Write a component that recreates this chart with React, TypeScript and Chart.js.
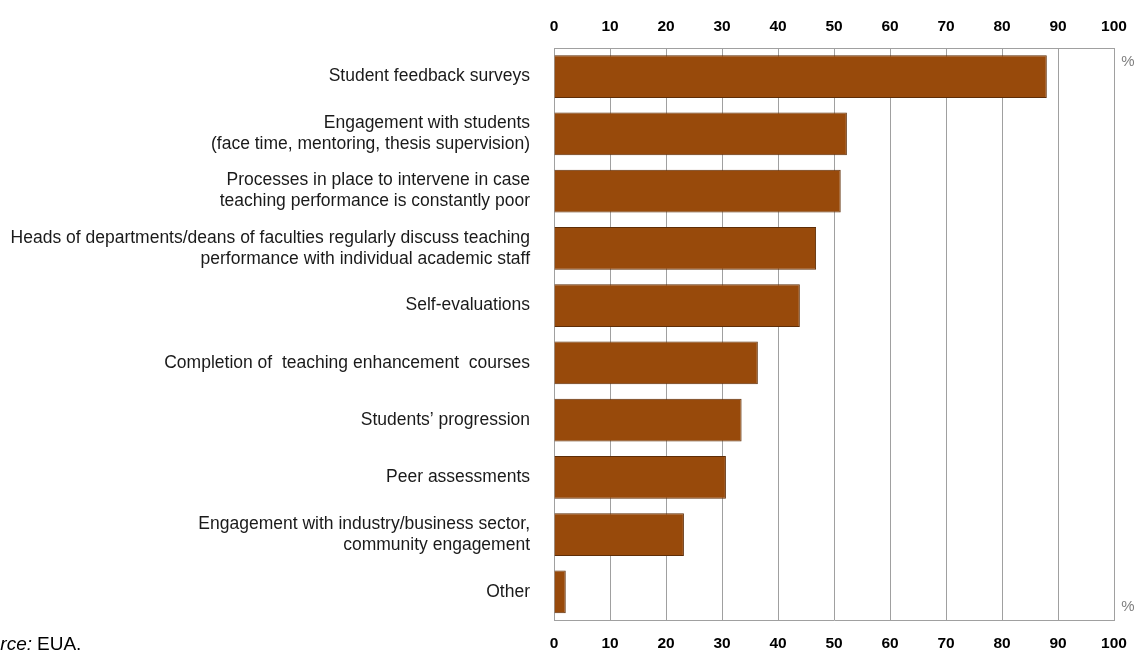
import React, { useEffect, useRef } from "react";
import { Chart, registerables } from "chart.js";

Chart.register(...registerables);

const categories: (string | string[])[] = [
  "Student feedback surveys",
  ["Engagement with students", "(face time, mentoring, thesis supervision)"],
  ["Processes in place to intervene in case", "teaching performance is constantly poor"],
  ["Heads of departments/deans of faculties regularly discuss teaching", "performance with individual academic staff"],
  "Self-evaluations",
  "Completion of  teaching enhancement  courses",
  "Students’ progression",
  "Peer assessments",
  ["Engagement with industry/business sector,", "community engagement"],
  "Other",
];

const values: number[] = [88, 52.3, 51.2, 46.8, 43.9, 36.4, 33.5, 30.7, 23.2, 2.1];

const axisMin = 0;
const axisMax = 100;
const axisStep = 10;
const unitLabel = "%";
const sourceItalic = "Source:";
const sourceText = "EUA.";

const BAR = "#984a0b";
const BAR_BORDER = "#5e2d07";
const GRID = "#a0a0a0";
const TICK_FONT = { family: "'Liberation Sans', Arial, sans-serif", size: 15.5, weight: "bold" as const };

const extras = {
  id: "extras",
  afterDraw(chart: any) {
    const ctx = chart.ctx;
    const area = chart.chartArea;
    ctx.save();
    ctx.fillStyle = "#7f7f7f";
    ctx.font = "15px 'Liberation Sans', Arial, sans-serif";
    ctx.textAlign = "center";
    ctx.textBaseline = "middle";
    ctx.fillText(unitLabel, area.right + 14, area.top + 14);
    ctx.fillText(unitLabel, area.right + 14, area.bottom - 14);
    ctx.fillStyle = "#000";
    ctx.textBaseline = "alphabetic";
    ctx.textAlign = "right";
    ctx.font = "italic 19px 'Liberation Sans', Arial, sans-serif";
    ctx.fillText(sourceItalic, 32, 650);
    ctx.textAlign = "left";
    ctx.font = "19px 'Liberation Sans', Arial, sans-serif";
    ctx.fillText(sourceText, 37, 650);
    ctx.restore();
  },
};

export default function App() {
  const ref = useRef<HTMLCanvasElement | null>(null);
  useEffect(() => {
    if (!ref.current) return;
    const chart = new Chart(ref.current, {
      type: "bar",
      data: {
        labels: categories as any,
        datasets: [
          {
            data: values,
            backgroundColor: BAR,
            borderColor: BAR_BORDER,
            borderWidth: 1,
            barPercentage: 0.745,
            categoryPercentage: 1,
            xAxisID: "x",
          },
        ],
      },
      options: {
        indexAxis: "y",
        responsive: false,
        animation: false,
        devicePixelRatio: 1,
        layout: { padding: { left: 0, right: 28, top: 0, bottom: 0 } },
        plugins: { legend: { display: false }, tooltip: { enabled: false } },
        scales: {
          x: {
            type: "linear",
            position: "bottom",
            min: axisMin,
            max: axisMax,
            ticks: { stepSize: axisStep, color: "#000", font: TICK_FONT, padding: 14 },
            grid: { color: GRID, drawTicks: false, lineWidth: 1 },
            border: { display: true, color: GRID, width: 1 },
            afterFit: (s: any) => { s.height = 30; },
          },
          x2: {
            type: "linear",
            position: "top",
            min: axisMin,
            max: axisMax,
            ticks: { stepSize: axisStep, color: "#000", font: TICK_FONT, padding: 12 },
            grid: { display: false, drawTicks: false },
            border: { display: true, color: GRID, width: 1 },
            afterFit: (s: any) => { s.height = 48; },
          },
          y: {
            type: "category",
            ticks: {
              color: "#1a1a1a",
              font: { family: "'Liberation Sans', Arial, sans-serif", size: 17.5, lineHeight: 1.2 },
              padding: 24,
              autoSkip: false,
            },
            grid: { display: false, drawTicks: false },
            border: { display: false },
            afterFit: (s: any) => { s.width = 554; },
          },
        },
      },
      plugins: [extras],
    });
    return () => chart.destroy();
  }, []);
  return (
    <div style={{ position: "absolute", left: 0, top: 0, width: 1142, height: 655, background: "#fff" }}>
      <canvas ref={ref} width={1142} height={655} />
    </div>
  );
}
